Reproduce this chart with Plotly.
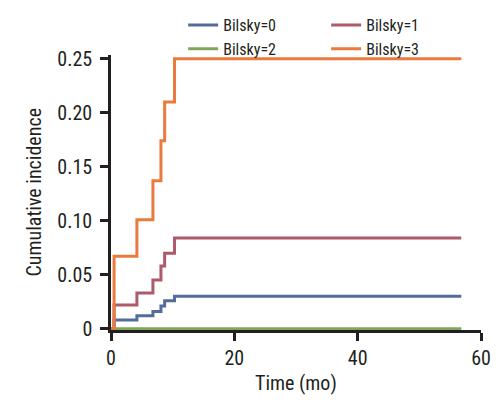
import plotly.graph_objects as go

# Data
time_steps = [0, 0.5, 4.2, 6.8, 8.1, 8.7, 10.3, 56.8]
bilsky0 = [0, 0.008, 0.012, 0.016, 0.021, 0.026, 0.030, 0.030]
bilsky1 = [0, 0.022, 0.033, 0.045, 0.058, 0.070, 0.084, 0.084]
bilsky2_time = [0, 56.8]
bilsky2 = [0, 0]
bilsky3 = [0, 0.067, 0.101, 0.137, 0.174, 0.210, 0.250, 0.250]

series_names = ["Bilsky=0", "Bilsky=1", "Bilsky=2", "Bilsky=3"]
series_colors = ["#536C9C", "#AD5B6B", "#7FA65A", "#EA7A3D"]

y_tickvals = [0, 0.05, 0.10, 0.15, 0.20, 0.25]
y_ticktext = ["0", "0.05", "0.10", "0.15", "0.20", "0.25"]
x_tickvals = [0, 20, 40, 60]
x_title = "Time (mo)"
y_title = "Cumulative incidence"

FONT = "Roboto Condensed, Liberation Sans, sans-serif"
INK = "#231F20"

fig = go.Figure()
data = [
    (time_steps, bilsky0),
    (time_steps, bilsky1),
    (bilsky2_time, bilsky2),
    (time_steps, bilsky3),
]
for (t, v), name, col in zip(data, series_names, series_colors):
    fig.add_trace(go.Scatter(
        x=t, y=v, mode="lines", name=name,
        line=dict(color=col, width=3, shape="hv"),
    ))

# The page body adds an 8px offset, so the figure is 8px smaller than the window.
fig.update_layout(
    width=493, height=395,
    margin=dict(l=103, r=20, t=47, b=73, autoexpand=False),
    paper_bgcolor="white", plot_bgcolor="white",
    font=dict(family=FONT, size=20, color=INK),
    legend=dict(
        orientation="h", x=0.195, y=1 + 47 / 275, xanchor="left", yanchor="top",
        entrywidth=98, font=dict(size=16, family=FONT, color=INK),
        bgcolor="rgba(0,0,0,0)", tracegroupgap=0,
    ),
    showlegend=True,
)
fig.add_annotation(text=x_title, xref="paper", yref="paper", x=0.5, y=-(383 - 330) / 275,
                   xanchor="center", yanchor="middle", showarrow=False,
                   font=dict(size=20, family=FONT, color=INK))
fig.add_annotation(text=y_title, xref="paper", yref="paper", x=-(111 - 33) / 370, y=0.5,
                   xanchor="center", yanchor="middle", showarrow=False, textangle=-90,
                   font=dict(size=20, family=FONT, color=INK))
fig.update_xaxes(
    range=[0, 60], tickvals=x_tickvals, showgrid=False, zeroline=False,
    showline=True, linecolor=INK, linewidth=2.5,
    ticks="outside", ticklen=8, tickwidth=2.5, tickcolor=INK,
    layer="below traces", automargin=False,
)
fig.update_yaxes(
    range=[-0.0012, 0.2535], tickvals=y_tickvals, ticktext=y_ticktext,
    showgrid=False, zeroline=False,
    showline=True, linecolor=INK, linewidth=2.5,
    ticks="outside", ticklen=8, tickwidth=2.5, tickcolor=INK,
    layer="below traces", automargin=False, ticklabelstandoff=4,
)

fig.write_html("out.html")
